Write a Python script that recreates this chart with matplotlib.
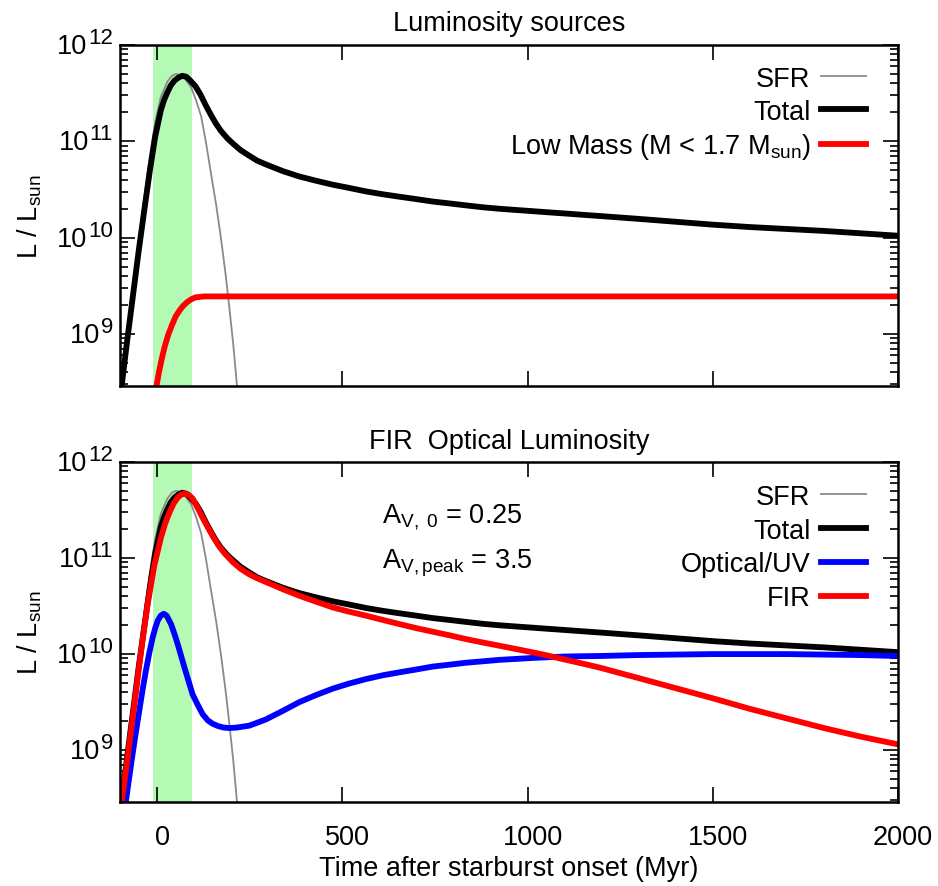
import numpy as np
import matplotlib
matplotlib.use("Agg")
import matplotlib.pyplot as plt
from matplotlib.ticker import FixedLocator, LogLocator, NullFormatter
from matplotlib.transforms import (ScaledTranslation, blended_transform_factory,
                                   offset_copy)

plt.rcParams['font.family'] = ['Liberation Sans', 'DejaVu Sans']
plt.rcParams['font.size'] = 19.5
plt.rcParams['mathtext.fontset'] = 'custom'
plt.rcParams['mathtext.rm'] = 'Liberation Sans'
plt.rcParams['mathtext.it'] = 'Liberation Sans:italic'
plt.rcParams['mathtext.bf'] = 'Liberation Sans:bold'
plt.rcParams['mathtext.default'] = 'regular'

# ---- data: time after onset (Myr) and log10(L / Lsun) ----
sfr_t = [-100, -96, -80, -65, -50, -35, -20, -5, 10, 28, 40, 51, 62, 75, 92,
         105, 119, 132, 145, 160, 173, 185, 195, 206, 216, 225]
sfr_logL = [8.35, 8.50, 9.02, 9.48, 9.95, 10.40, 10.83, 11.20, 11.46, 11.62,
            11.68, 11.70, 11.69, 11.65, 11.56, 11.43, 11.26, 10.99, 10.68,
            10.33, 9.98, 9.62, 9.28, 8.88, 8.45, 8.10]

total_t = [-100, -96, -80, -65, -50, -35, -20, -5, 10, 19, 28, 37, 47, 57, 68,
           79, 90, 104, 118, 132, 146, 158, 172, 190, 204, 225, 249, 270, 294,
           340, 384, 430, 474, 520, 564, 610, 654, 700, 744, 790, 834, 880,
           924, 970, 1014, 1060, 1104, 1150, 1194, 1300, 1400, 1500, 1600,
           1700, 1800, 1900, 2000]
total_logL = [8.33, 8.45, 8.95, 9.40, 9.85, 10.27, 10.68, 11.05, 11.32, 11.43,
              11.51, 11.58, 11.63, 11.66, 11.68, 11.67, 11.63, 11.57, 11.48,
              11.37, 11.27, 11.19, 11.11, 11.03, 10.98, 10.91, 10.85, 10.80,
              10.76, 10.69, 10.635, 10.59, 10.55, 10.515, 10.48, 10.45,
              10.425, 10.40, 10.375, 10.355, 10.335, 10.315, 10.30, 10.287,
              10.275, 10.262, 10.25, 10.237, 10.225, 10.195, 10.165, 10.135,
              10.11, 10.09, 10.07, 10.045, 10.02]

lowmass_t = [-6, -2, 5, 12, 20, 30, 40, 50, 60, 70, 81, 92, 104, 115, 128, 140,
             160, 2000]
lowmass_logL = [8.35, 8.45, 8.60, 8.73, 8.86, 8.99, 9.09, 9.18, 9.24, 9.29,
                9.33, 9.36, 9.38, 9.385, 9.39, 9.39, 9.39, 9.39]

fir_t = [-100, -97, -80, -66, -52, -39, -25, -7, 11, 22, 33, 45, 56, 65, 74,
         85, 96, 110, 123, 137, 150, 166, 182, 204, 225, 249, 270, 294, 340,
         384, 430, 474, 520, 564, 610, 654, 700, 744, 790, 834, 880, 924, 970,
         1014, 1060, 1104, 1150, 1194, 1300, 1400, 1500, 1600, 1700, 1800,
         1900, 2000]
fir_logL = [8.33, 8.42, 8.90, 9.33, 9.76, 10.15, 10.53, 10.93, 11.22, 11.36,
            11.47, 11.57, 11.63, 11.66, 11.67, 11.66, 11.62, 11.52, 11.42,
            11.32, 11.23, 11.13, 11.05, 10.96, 10.89, 10.83, 10.79, 10.75,
            10.675, 10.607, 10.545, 10.486, 10.44, 10.40, 10.355, 10.3125,
            10.27, 10.233, 10.195, 10.156, 10.12, 10.087, 10.052, 10.018,
            9.98, 9.94, 9.90, 9.86, 9.75, 9.645, 9.54, 9.43, 9.33, 9.23, 9.14,
            9.06]

opt_t = [-90, -84, -75, -66, -57, -48, -39, -30, -21, -12, -5, 2, 10, 18, 26,
         38, 47, 56, 65, 74, 85, 96, 110, 123, 137, 150, 165, 180, 195, 215,
         249, 270, 294, 340, 384, 430, 474, 520, 564, 610, 654, 700, 744, 790,
         834, 880, 924, 970, 1014, 1060, 1104, 1150, 1194, 1300, 1400, 1500,
         1600, 1700, 1800, 1900, 2000]
opt_logL = [8.27, 8.47, 8.72, 8.96, 9.19, 9.41, 9.63, 9.83, 10.01, 10.17,
            10.27, 10.35, 10.40, 10.42, 10.40, 10.31, 10.21, 10.10, 9.98, 9.86,
            9.72, 9.58, 9.47, 9.375, 9.31, 9.275, 9.25, 9.235, 9.23, 9.235,
            9.255, 9.285, 9.32, 9.41, 9.50, 9.575, 9.64, 9.695, 9.74, 9.78,
            9.81, 9.84, 9.87, 9.89, 9.91, 9.925, 9.94, 9.95, 9.96, 9.968,
            9.975, 9.978, 9.98, 9.99, 9.995, 10.0, 10.0, 10.0, 9.995, 9.99,
            9.98]

burst_window = (-10, 93)
x_ticks = [0, 500, 1000, 1500, 2000]
y_decades = [9, 10, 11, 12]


def lum(logL):
    return 10.0 ** np.asarray(logL)


GRAY, GREEN = '#8a8a8a', '#b4f9b4'
THICK = 4.2

fig = plt.figure(figsize=(9.38, 8.87), dpi=100)
ax1 = fig.add_axes([120 / 938, 1 - 387 / 887, 778 / 938, 341 / 887])
ax2 = fig.add_axes([120 / 938, 1 - 803 / 887, 778 / 938, 340 / 887])


def power_labels(ax):
    """Write 10^k labels with a large exponent, right-aligned to the axis."""
    trans = blended_transform_factory(ax.transAxes, ax.transData)
    for k in y_decades:
        exp_txt = ax.text(0, 10.0 ** k, str(k), fontsize=16, ha='right',
                          va='bottom', clip_on=False,
                          transform=offset_copy(trans, fig, x=-7, y=-3,
                                                units='dots'))
        ax.annotate('10', xy=(0, 0), xycoords=exp_txt, xytext=(-1, -11),
                    textcoords='offset pixels', ha='right', va='bottom',
                    fontsize=19.5, annotation_clip=False)


def style(ax, xlabels):
    ax.set_yscale('log')
    ax.set_xlim(-100, 2000)
    ax.set_ylim(10 ** 8.46, 1e12)
    ax.xaxis.set_major_locator(FixedLocator(x_ticks))
    ax.yaxis.set_major_locator(LogLocator(base=10, numticks=12))
    ax.yaxis.set_minor_locator(LogLocator(base=10, subs=np.arange(2, 10),
                                          numticks=40))
    ax.yaxis.set_major_formatter(NullFormatter())
    ax.yaxis.set_minor_formatter(NullFormatter())
    ax.tick_params(which='both', direction='in', top=True, right=True,
                   width=1.2, colors='black')
    ax.tick_params(which='major', length=11)
    ax.tick_params(which='minor', length=5.5)
    ax.tick_params(axis='x', which='minor', top=False, bottom=False)
    ax.tick_params(axis='x', pad=15.5, labelbottom=xlabels)
    for sp in ax.spines.values():
        sp.set_linewidth(1.8)
    ax.axvspan(*burst_window, color=GREEN, lw=0, zorder=0)
    ax.set_ylabel(r'L / L$_{sun}$')
    ax.yaxis.set_label_coords(-0.098, 0.5)
    power_labels(ax)


def right_legend(ax, handles, labels, top, spacing):
    leg = ax.legend(handles, labels, loc='upper right',
                    bbox_to_anchor=(0.959, top), frameon=False,
                    markerfirst=False, handlelength=1.65, handletextpad=0.4,
                    labelspacing=spacing, borderpad=0, borderaxespad=0)
    for col in leg._legend_handle_box.get_children():
        col.align = 'right'
    return leg


style(ax1, False)
style(ax2, True)

# top panel: luminosity sources
s1, = ax1.plot(sfr_t, lum(sfr_logL), color=GRAY, lw=1.3)
t1, = ax1.plot(total_t, lum(total_logL), color='black', lw=THICK)
r1, = ax1.plot(lowmass_t, lum(lowmass_logL), color='#ff0000', lw=THICK)
ax1.set_title('Luminosity sources', pad=10.5, fontsize=19.5)
right_legend(ax1, [s1, t1, r1],
             ['SFR', 'Total', r'Low Mass (M < 1.7 M$_{sun}$)'], 0.939, 0.25)

# bottom panel: FIR / optical split
s2, = ax2.plot(sfr_t, lum(sfr_logL), color=GRAY, lw=1.3)
t2, = ax2.plot(total_t, lum(total_logL), color='black', lw=THICK)
b2, = ax2.plot(opt_t, lum(opt_logL), color='#0000ff', lw=THICK)
f2, = ax2.plot(fir_t, lum(fir_logL), color='#ff0000', lw=THICK)
ax2.set_title('FIR  Optical Luminosity', pad=10, fontsize=19.5)
ax2.set_xlabel('Time after starburst onset (Myr)', labelpad=4)
right_legend(ax2, [s2, t2, b2, f2], ['SFR', 'Total', 'Optical/UV', 'FIR'],
             0.936, 0.29)

ax2.text(0.3365, 0.8226, r'A$_{V,\ 0}$ = 0.25', transform=ax2.transAxes,
         ha='left', va='baseline')
ax2.text(0.3365, 0.690, r'A$_{V,peak}$ = 3.5', transform=ax2.transAxes,
         ha='left', va='baseline')

# nudge the time labels slightly to the right
shift = ScaledTranslation(5 / 100, 0, fig.dpi_scale_trans)
for lab in ax2.get_xticklabels():
    lab.set_transform(lab.get_transform() + shift)

fig.savefig('out.png', dpi=100)
